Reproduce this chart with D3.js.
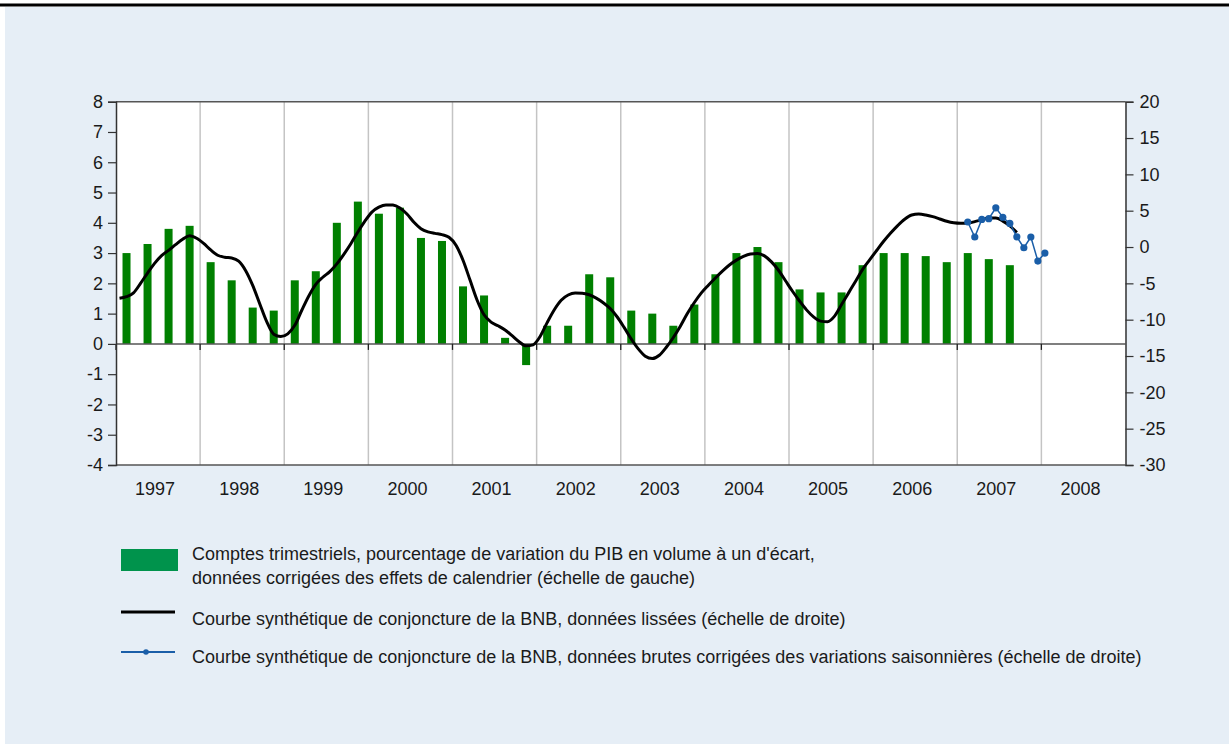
<!DOCTYPE html>
<html>
<head>
<meta charset="utf-8">
<script src="https://cdn.jsdelivr.net/npm/d3@7"></script>
<style>
  html, body { margin: 0; padding: 0; background: #fff; }
  svg { display: block; font-family: "Liberation Sans", Arial, sans-serif; }
</style>
</head>
<body>
<div id="chart"></div>
<script>
// year labels on the x axis
var years = [1997, 1998, 1999, 2000, 2001, 2002, 2003, 2004, 2005, 2006, 2007, 2008]

// quarterly GDP growth, 1997 Q1 .. 2007 Q3 (left scale)
var gdpQuarterly = [
  3.0, 3.3, 3.8, 3.9,
  2.7, 2.1, 1.2, 1.1,
  2.1, 2.4, 4.0, 4.7,
  4.3, 4.5, 3.5, 3.4,
  1.9, 1.6, 0.2, -0.7,
  0.6, 0.6, 2.3, 2.2,
  1.1, 1.0, 0.6, 1.3,
  2.3, 3.0, 3.2, 2.7,
  1.8, 1.7, 1.7, 2.6,
  3.0, 3.0, 2.9, 2.7,
  3.0, 2.8, 2.6
]

// BNB smoothed business barometer, monthly Jan 1997 .. Sep 2007 (right scale)
var bnbSmoothed = [
  -7.05, -6.83, -6.31, -5.0, -3.58, -2.25, -1.18, -0.46, 0.32, 1.06, 1.55, 1.2,
  0.49, -0.4, -1.13, -1.41, -1.51, -1.94, -3.25, -5.28, -7.8, -10.28, -12.0, -12.33,
  -11.95, -10.78, -8.7, -6.73, -5.13, -4.16, -3.38, -2.32, -1.0, 0.46, 2.07, 3.56,
  4.81, 5.48, 5.8, 5.77, 5.37, 4.55, 3.41, 2.53, 2.09, 1.88, 1.71, 1.34,
  0.25, -1.82, -4.55, -7.29, -9.33, -10.33, -10.84, -11.42, -12.2, -13.03, -13.6, -13.46,
  -12.31, -10.4, -8.66, -7.32, -6.6, -6.33, -6.35, -6.57, -7.03, -7.66, -8.47, -9.63,
  -11.1, -12.66, -14.02, -15.02, -15.35, -14.9, -13.8, -12.45, -10.9, -9.15, -7.64, -6.31,
  -5.25, -4.26, -3.32, -2.48, -1.8, -1.3, -0.97, -0.89, -1.22, -2.05, -3.2, -4.64,
  -6.09, -7.43, -8.65, -9.62, -10.2, -10.28, -9.51, -7.92, -6.31, -4.7, -3.07, -1.76,
  -0.48, 0.79, 1.92, 2.95, 3.83, 4.4, 4.53, 4.41, 4.18, 3.86, 3.54, 3.33,
  3.26, 3.29, 3.5, 3.75, 3.98, 3.98, 3.57, 2.92, 2.0
]

// BNB raw (seasonally adjusted) barometer, monthly Feb 2007 .. Jan 2008 (right scale)
var bnbRawStartMonth = 121   // months since Jan 1997
var bnbRaw = [3.44, 1.38, 3.8, 3.9, 5.4, 4.1, 3.25, 1.4, -0.1, 1.38, -1.93, -0.83]

var leftTicks = [8, 7, 6, 5, 4, 3, 2, 1, 0, -1, -2, -3, -4]
var rightTicks = [20, 15, 10, 5, 0, -5, -10, -15, -20, -25, -30]

var legendItems = [
  { type: "bar", lines: ["Comptes trimestriels, pourcentage de variation du PIB en volume à un d'écart,",
                         "données corrigées des effets de calendrier (échelle de gauche)"] },
  { type: "smooth", lines: ["Courbe synthétique de conjoncture de la BNB, données lissées (échelle de droite)"] },
  { type: "raw", lines: ["Courbe synthétique de conjoncture de la BNB, données brutes corrigées des variations saisonnières (échelle de droite)"] }
]

/***** Configuration *****/
var W = 1229, H = 744
var plot = { left: 116, right: 1125.5, top: 101.7, bottom: 465 }
var barColor = "#008000", legendGreen = "#00934c", blue = "#1a5ea8", textColor = "#1a1a1a"
var fontSize = 18

var svg = d3.select("#chart").append("svg")
  .attr("width", W).attr("height", H)

svg.append("rect").attr("x", 5).attr("y", 7).attr("width", W - 5).attr("height", H - 7)
  .attr("fill", "#e6eef6")
svg.append("line").attr("x1", 0).attr("x2", W).attr("y1", 5).attr("y2", 5)
  .attr("stroke", "#000").attr("stroke-width", 3)

var x = d3.scaleLinear().domain([1997, 2009]).range([plot.left, plot.right])
var yL = d3.scaleLinear().domain([-4, 8]).range([plot.bottom, plot.top])
var yR = d3.scaleLinear().domain([-30, 20]).range([plot.bottom, plot.top])

svg.append("rect")
  .attr("x", plot.left).attr("y", plot.top)
  .attr("width", plot.right - plot.left).attr("height", plot.bottom - plot.top)
  .attr("fill", "#fff")

// vertical year grid
svg.append("g").selectAll("line")
  .data(d3.range(1998, 2009))
  .join("line")
  .attr("x1", d => x(d)).attr("x2", d => x(d))
  .attr("y1", plot.top).attr("y2", plot.bottom)
  .attr("stroke", "#c4c4c4").attr("stroke-width", 1.5)

// bars
var barW = 8
svg.append("g").selectAll("rect")
  .data(gdpQuarterly)
  .join("rect")
  .attr("x", (d, i) => x(1997 + (i + 0.5) / 4) - barW / 2)
  .attr("width", barW)
  .attr("y", d => yL(Math.max(0, d)))
  .attr("height", d => Math.abs(yL(d) - yL(0)))
  .attr("fill", barColor)

// zero line with year ticks
svg.append("line")
  .attr("x1", plot.left).attr("x2", plot.right)
  .attr("y1", yL(0)).attr("y2", yL(0))
  .attr("stroke", "#555").attr("stroke-width", 1.5)
svg.append("g").selectAll("line")
  .data(d3.range(1997, 2009))
  .join("line")
  .attr("x1", d => x(d)).attr("x2", d => x(d))
  .attr("y1", yL(0)).attr("y2", yL(0) + 6)
  .attr("stroke", "#222").attr("stroke-width", 1.3)

// frame top and bottom
svg.append("line").attr("x1", plot.left).attr("x2", plot.right)
  .attr("y1", plot.top).attr("y2", plot.top).attr("stroke", "#555").attr("stroke-width", 1.5)
svg.append("line").attr("x1", plot.left).attr("x2", plot.right)
  .attr("y1", plot.bottom).attr("y2", plot.bottom).attr("stroke", "#555").attr("stroke-width", 1.5)

// smoothed line
var monthX = m => x(1997 + (m + 0.5) / 12)
svg.append("path")
  .datum(bnbSmoothed)
  .attr("fill", "none")
  .attr("stroke", "#000").attr("stroke-width", 3)
  .attr("stroke-linejoin", "round")
  .attr("d", d3.line().x((d, i) => monthX(i)).y(d => yR(d)).curve(d3.curveMonotoneX))

// raw line with dots
var rawLine = d3.line().x((d, i) => monthX(bnbRawStartMonth + i)).y(d => yR(d))
svg.append("path")
  .datum(bnbRaw)
  .attr("fill", "none").attr("stroke", blue).attr("stroke-width", 1.5)
  .attr("d", rawLine)
svg.append("g").selectAll("circle")
  .data(bnbRaw)
  .join("circle")
  .attr("cx", (d, i) => monthX(bnbRawStartMonth + i))
  .attr("cy", d => yR(d))
  .attr("r", 3.6)
  .attr("fill", blue)

// axes
var axL = svg.append("g").attr("transform", "translate(" + plot.left + ",0)")
  .call(d3.axisLeft(yL).tickValues(leftTicks).tickSize(8).tickPadding(5).tickFormat(d3.format("d")))
var axR = svg.append("g").attr("transform", "translate(" + plot.right + ",0)")
  .call(d3.axisRight(yR).tickValues(rightTicks).tickSize(8).tickPadding(6).tickFormat(d3.format("d")))
;[axL, axR].forEach(function (ax) {
  ax.select(".domain").attr("stroke", "#333").attr("stroke-width", 1.5)
  ax.selectAll(".tick line").attr("stroke", "#333").attr("stroke-width", 1.2)
  ax.selectAll(".tick text")
    .attr("font-size", fontSize).attr("fill", textColor)
    .attr("font-family", "Liberation Sans, Arial, sans-serif")
    .text(d => String(d).replace("\u2212", "-"))
})

// year labels
svg.append("g").selectAll("text")
  .data(years)
  .join("text")
  .attr("x", d => x(d + 0.5) - 3)
  .attr("y", 494.5)
  .attr("text-anchor", "middle")
  .attr("font-size", fontSize).attr("fill", textColor)
  .text(d => d)

// legend
var lg = svg.append("g")
var rowY = [553, 618, 656]
legendItems.forEach(function (item, k) {
  var cy = rowY[k]
  if (item.type === "bar") {
    lg.append("rect").attr("x", 121).attr("y", 549).attr("width", 57).attr("height", 22)
      .attr("fill", legendGreen)
  } else if (item.type === "smooth") {
    lg.append("line").attr("x1", 121).attr("x2", 175).attr("y1", 612).attr("y2", 612)
      .attr("stroke", "#000").attr("stroke-width", 3)
  } else {
    lg.append("line").attr("x1", 121).attr("x2", 175).attr("y1", 652).attr("y2", 652)
      .attr("stroke", blue).attr("stroke-width", 2)
    lg.append("circle").attr("cx", 146).attr("cy", 652).attr("r", 2.8).attr("fill", blue)
  }
  item.lines.forEach(function (t, j) {
    lg.append("text")
      .attr("x", 192).attr("y", cy + j * 24 + 6.5)
      .attr("font-size", fontSize).attr("fill", textColor)
      .text(t)
  })
})
</script>
</body>
</html>
